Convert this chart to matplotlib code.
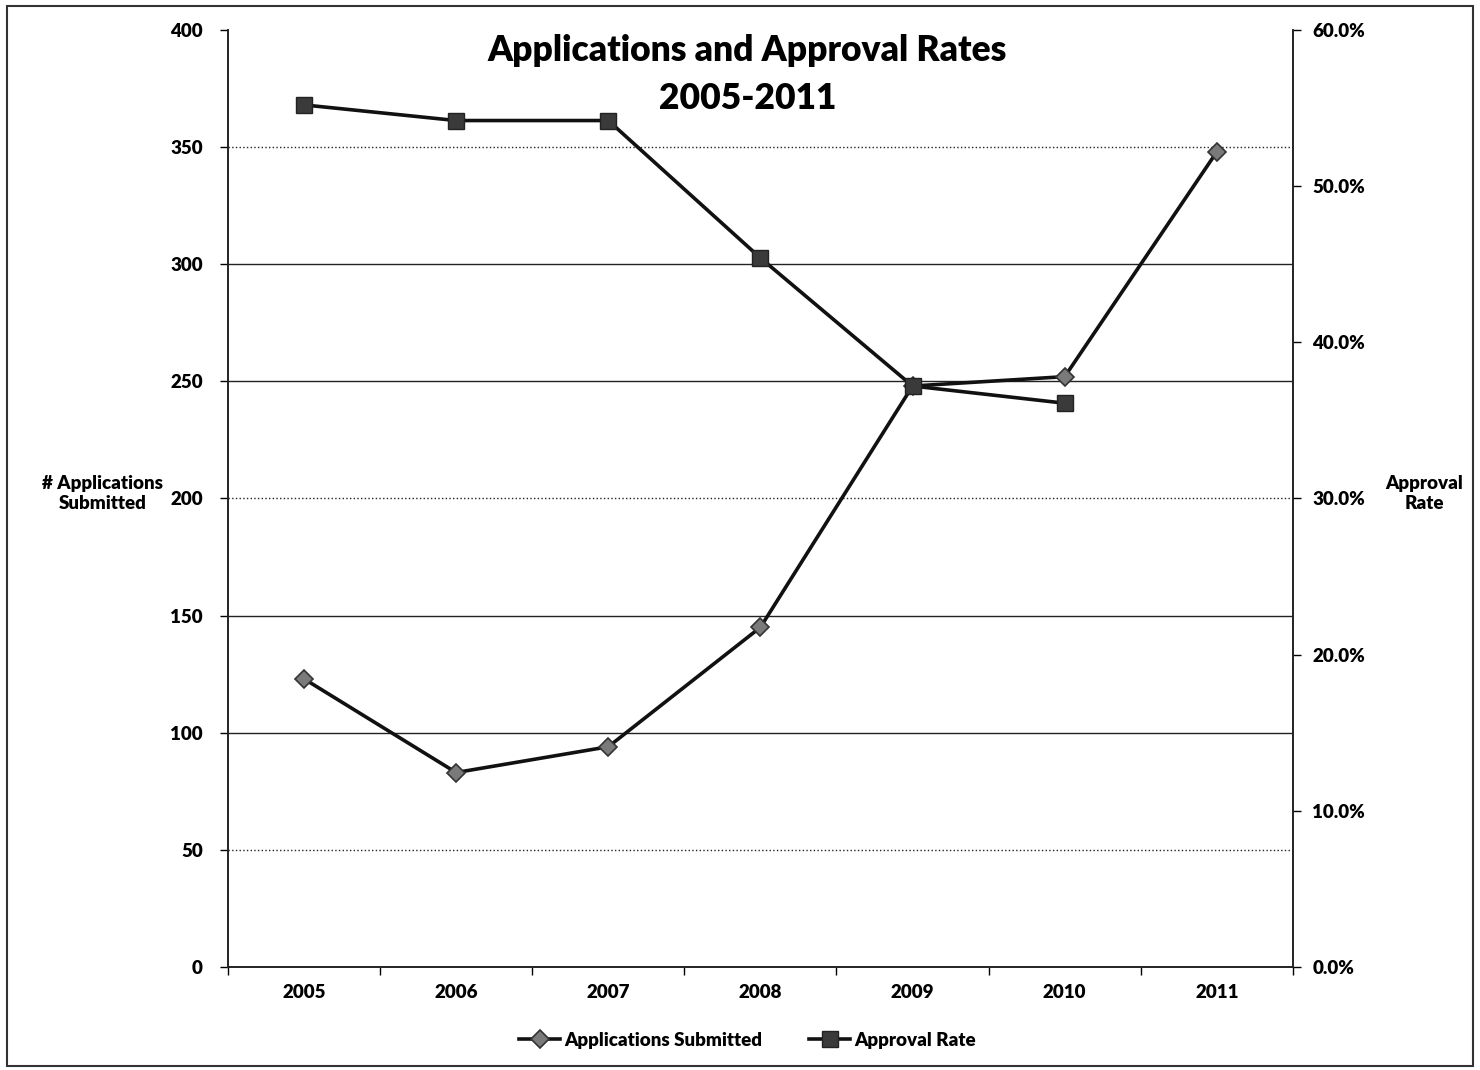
import matplotlib.pyplot as plt
from matplotlib.patches import Rectangle
from matplotlib.ticker import FuncFormatter, MultipleLocator

plt.rcParams['font.family'] = ['Lato', 'DejaVu Sans']

years = ["2005", "2006", "2007", "2008", "2009", "2010", "2011"]
applications = [123, 83, 94, 145, 248, 252, 348]
approval_years = ["2005", "2006", "2007", "2008", "2009", "2010"]
approval_rate = [55.2, 54.2, 54.2, 45.4, 37.2, 36.1]

fig = plt.figure(figsize=(14.8, 10.7), dpi=100)
ax = fig.add_axes([0.154, 0.0963, 0.7196, 0.8757])
ax2 = ax.twinx()

x = list(range(len(years)))
x2 = [years.index(y) for y in approval_years]

# gridlines (some look dotted in the scan)
for v in range(50, 400, 50):
    ls = ':' if v in (50, 200, 350) else '-'
    ax.axhline(v, color='#222222', lw=1.0, ls=ls, zorder=0)

l1, = ax.plot(x, applications, color='#111111', lw=2.6, marker='D', markersize=9,
              markerfacecolor='#7a7a7a', markeredgecolor='#333333', markeredgewidth=1.2,
              zorder=3, label='Applications Submitted')
l2, = ax2.plot(x2, approval_rate, color='#111111', lw=2.6, marker='s', markersize=12,
               markerfacecolor='#3a3a3a', markeredgecolor='#222222', markeredgewidth=1,
               zorder=3, label='Approval Rate')

ax.set_xlim(-0.5, 6.5)
ax.set_ylim(0, 400)
ax2.set_ylim(0, 60)
ax.yaxis.set_major_locator(MultipleLocator(50))
ax2.yaxis.set_major_locator(MultipleLocator(10))
ax2.yaxis.set_major_formatter(FuncFormatter(lambda v, p: f"{v:.1f}%"))

ax.set_xticks(x)
ax.set_xticklabels(years)
ax.set_xticks([i + 0.5 for i in range(-1, 7)], minor=True)
ax.tick_params(axis='x', which='major', length=0, pad=12)
ax.tick_params(axis='x', which='minor', length=6, direction='out', width=1)
ax.tick_params(axis='y', length=6, width=1, pad=12)
ax2.tick_params(axis='y', length=6, width=1, pad=8)

for lab in ax.get_xticklabels() + ax.get_yticklabels() + ax2.get_yticklabels():
    lab.set_fontsize(13.5)
    lab.set_fontweight('heavy')

for a in (ax, ax2):
    a.spines['top'].set_visible(False)
    for s in ('left', 'right', 'bottom'):
        a.spines[s].set_color('#222222')
        a.spines[s].set_linewidth(1.2)

ax.set_ylabel('# Applications\nSubmitted', rotation=0, fontsize=13.5, fontweight='heavy',
              va='center', ha='center')
ax.yaxis.set_label_coords(-0.118, 0.505)
ax2.set_ylabel('Approval\nRate', rotation=0, fontsize=13.5, fontweight='heavy',
               va='center', ha='center')
ax2.yaxis.set_label_coords(1.123, 0.505)

fig.text(0.505, 0.93, 'Applications and Approval Rates\n2005-2011', ha='center', va='center',
         fontsize=25.5, fontweight='heavy', linespacing=1.55)

fig.legend(handles=[l1, l2], loc='center', bbox_to_anchor=(0.505, 0.028), ncol=2,
           frameon=False, prop={'size': 13.5, 'weight': 'heavy'}, handlelength=2.2,
           handletextpad=0.2, columnspacing=2.5)

fig.patches.append(Rectangle((0.005, 0.004), 0.99, 0.99, transform=fig.transFigure,
                             fill=False, edgecolor='#333333', lw=1.5))

fig.savefig('out.png', dpi=100)
